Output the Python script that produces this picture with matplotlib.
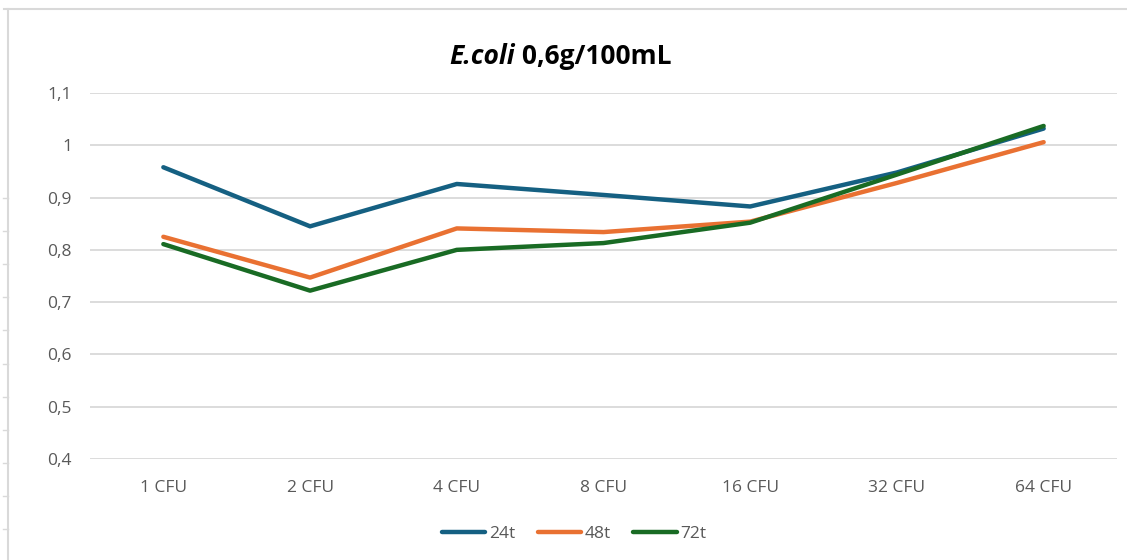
"""E.coli 0,6g/100mL - absorbance per CFU dilution, three incubation times."""
import matplotlib
matplotlib.use("Agg")
import matplotlib.pyplot as plt
from matplotlib.lines import Line2D

categories = ["1 CFU", "2 CFU", "4 CFU", "8 CFU", "16 CFU", "32 CFU", "64 CFU"]
t24 = [0.958, 0.845, 0.926, 0.905, 0.883, 0.948, 1.032]
t48 = [0.825, 0.747, 0.841, 0.834, 0.854, 0.928, 1.006]
t72 = [0.811, 0.722, 0.800, 0.813, 0.852, 0.944, 1.037]
yticks = [0.4, 0.5, 0.6, 0.7, 0.8, 0.9, 1.0, 1.1]
ylabels = ["0,4", "0,5", "0,6", "0,7", "0,8", "0,9", "1", "1,1"]

plt.rcParams["font.family"] = ["Open Sans", "DejaVu Sans"]
W, H = 1127, 560
fig = plt.figure(figsize=(W / 100, H / 100), dpi=100)
ax = fig.add_axes([90 / W, 1 - 459 / H, (1117 - 90) / W, (459 - 93) / H])

x = range(len(categories))
ax.plot(x, t24, color="#156082", lw=3.2, label="24t", solid_capstyle="round")
ax.plot(x, t48, color="#E97132", lw=3.2, label="48t", solid_capstyle="round")
ax.plot(x, t72, color="#196B24", lw=3.2, label="72t", solid_capstyle="round")

ax.set_xlim(-0.5, len(categories) - 0.5)
ax.set_ylim(0.4, 1.1)
ax.set_yticks(yticks)
ax.set_yticklabels(ylabels)
ax.set_xticks(list(x))
ax.set_xticklabels(categories)
ax.grid(axis="y", color="#d9d9d9", lw=1.3)
ax.set_axisbelow(True)
for s in ax.spines.values():
    s.set_visible(False)
ax.tick_params(length=0, labelsize=12.5, colors="#595959")
ax.tick_params(axis="y", pad=13)
ax.tick_params(axis="x", pad=15)

leg = ax.legend(loc="center", bbox_to_anchor=(574 / W, 1 - 534 / H),
                bbox_transform=fig.transFigure, ncol=3, frameon=False,
                fontsize=12.5, handlelength=2.5, handletextpad=0.2,
                columnspacing=1.3)
for t in leg.get_texts():
    t.set_color("#595959")

# title: italic part + regular part, centred together
t1 = fig.text(0, 1 - 57 / H, "E.coli", fontsize=19, weight="bold",
              style="italic", va="center", color="black")
t2 = fig.text(0, 1 - 57 / H, " 0,6g/100mL", fontsize=19, weight="bold",
              va="center", color="black")
fig.canvas.draw()
r = fig.canvas.get_renderer()
w1 = t1.get_window_extent(r).width
w2 = t2.get_window_extent(r).width
x0 = 560 - (w1 + w2) / 2
t1.set_x(x0 / W)
t2.set_x((x0 + w1) / W)

# chart frame remnants of the screenshot
fig.add_artist(Line2D([4 / W, 1], [1 - 9 / H] * 2, color="#d9d9d9", lw=1.5))
fig.add_artist(Line2D([8 / W] * 2, [1 - 9 / H, 0], color="#d9d9d9", lw=1.5))
for i in range(11):
    yy = 198 + i * 33.1
    fig.add_artist(Line2D([3 / W, 8 / W], [1 - yy / H] * 2,
                          color="#d9d9d9", lw=1))

fig.savefig("out.png", dpi=100)
